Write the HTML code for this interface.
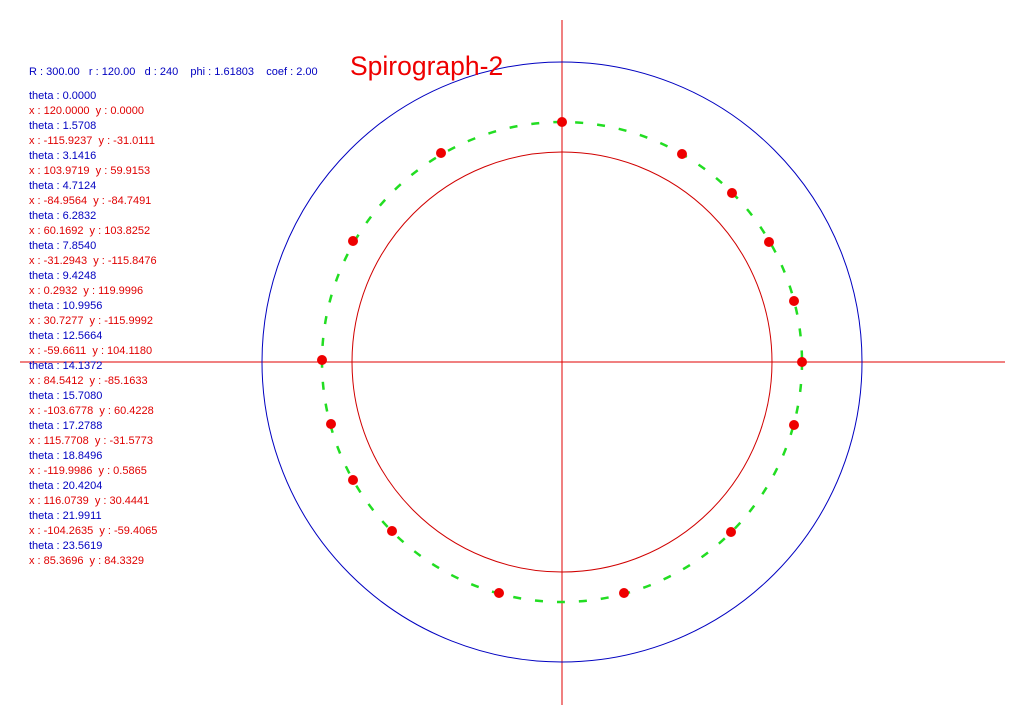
<!DOCTYPE html>
<html><head><style>
body{margin:0;background:#fff;width:1024px;height:724px;overflow:hidden;font-family:"Liberation Sans",Arial,sans-serif}
</style></head><body>
<svg width="1024" height="724" style="position:absolute;left:0;top:0" font-family="Liberation Sans, Arial, sans-serif">
<line x1="20" y1="362" x2="1005" y2="362" stroke="#e00000" stroke-width="1"/>
<line x1="562" y1="20" x2="562" y2="705" stroke="#e00000" stroke-width="1"/>
<circle cx="562" cy="362" r="300" fill="none" stroke="#0000c0" stroke-width="1"/>
<circle cx="562" cy="362" r="210" fill="none" stroke="#d00000" stroke-width="1"/>
<circle cx="562" cy="362" r="240" fill="none" stroke="#22dd22" stroke-width="2.5" stroke-dasharray="8 14"/>
<g fill="#ee0000">
<circle cx="562" cy="122" r="5"/><circle cx="441" cy="153" r="5"/><circle cx="682" cy="154" r="5"/>
<circle cx="732" cy="193" r="5"/><circle cx="353" cy="241" r="5"/><circle cx="769" cy="242" r="5"/>
<circle cx="794" cy="301" r="5"/><circle cx="322" cy="360" r="5"/><circle cx="802" cy="362" r="5"/>
<circle cx="331" cy="424" r="5"/><circle cx="794" cy="425" r="5"/><circle cx="353" cy="480" r="5"/>
<circle cx="392" cy="531" r="5"/><circle cx="731" cy="532" r="5"/><circle cx="499" cy="593" r="5"/>
<circle cx="624" cy="593" r="5"/>
</g>
<text x="350" y="75" font-size="26.5" fill="#ee0000">Spirograph-2</text>
<text x="29" y="75" font-size="11" fill="#0000c0">R : 300.00&#160;&#160; r : 120.00&#160;&#160; d : 240&#160;&#160;&#160; phi : 1.61803&#160;&#160;&#160; coef : 2.00</text>
<g font-size="11">
<text x="29" y="99" fill="#0000c0">theta : 0.0000</text>
<text x="29" y="114" fill="#e00000">x : 120.0000&#160; y : 0.0000</text>
<text x="29" y="129" fill="#0000c0">theta : 1.5708</text>
<text x="29" y="144" fill="#e00000">x : -115.9237&#160; y : -31.0111</text>
<text x="29" y="159" fill="#0000c0">theta : 3.1416</text>
<text x="29" y="174" fill="#e00000">x : 103.9719&#160; y : 59.9153</text>
<text x="29" y="189" fill="#0000c0">theta : 4.7124</text>
<text x="29" y="204" fill="#e00000">x : -84.9564&#160; y : -84.7491</text>
<text x="29" y="219" fill="#0000c0">theta : 6.2832</text>
<text x="29" y="234" fill="#e00000">x : 60.1692&#160; y : 103.8252</text>
<text x="29" y="249" fill="#0000c0">theta : 7.8540</text>
<text x="29" y="264" fill="#e00000">x : -31.2943&#160; y : -115.8476</text>
<text x="29" y="279" fill="#0000c0">theta : 9.4248</text>
<text x="29" y="294" fill="#e00000">x : 0.2932&#160; y : 119.9996</text>
<text x="29" y="309" fill="#0000c0">theta : 10.9956</text>
<text x="29" y="324" fill="#e00000">x : 30.7277&#160; y : -115.9992</text>
<text x="29" y="339" fill="#0000c0">theta : 12.5664</text>
<text x="29" y="354" fill="#e00000">x : -59.6611&#160; y : 104.1180</text>
<text x="29" y="369" fill="#0000c0">theta : 14.1372</text>
<text x="29" y="384" fill="#e00000">x : 84.5412&#160; y : -85.1633</text>
<text x="29" y="399" fill="#0000c0">theta : 15.7080</text>
<text x="29" y="414" fill="#e00000">x : -103.6778&#160; y : 60.4228</text>
<text x="29" y="429" fill="#0000c0">theta : 17.2788</text>
<text x="29" y="444" fill="#e00000">x : 115.7708&#160; y : -31.5773</text>
<text x="29" y="459" fill="#0000c0">theta : 18.8496</text>
<text x="29" y="474" fill="#e00000">x : -119.9986&#160; y : 0.5865</text>
<text x="29" y="489" fill="#0000c0">theta : 20.4204</text>
<text x="29" y="504" fill="#e00000">x : 116.0739&#160; y : 30.4441</text>
<text x="29" y="519" fill="#0000c0">theta : 21.9911</text>
<text x="29" y="534" fill="#e00000">x : -104.2635&#160; y : -59.4065</text>
<text x="29" y="549" fill="#0000c0">theta : 23.5619</text>
<text x="29" y="564" fill="#e00000">x : 85.3696&#160; y : 84.3329</text>
</g>
</svg>
</body></html>
